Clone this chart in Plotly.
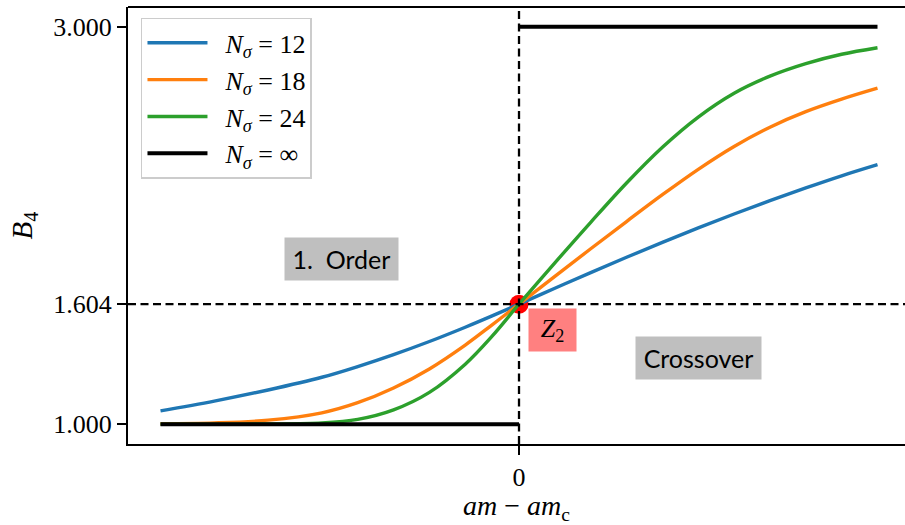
import plotly.graph_objects as go

# ---- data ----
x_grid = [-1.0, -0.85, -0.7, -0.55, -0.45, -0.35, -0.25, -0.15, -0.075, 0.0,
          0.1, 0.2, 0.3, 0.4, 0.5, 0.6, 0.7, 0.8, 0.9, 1.0]
b4_n12 = [1.067, 1.116, 1.172, 1.236, 1.290, 1.350, 1.416, 1.488, 1.545, 1.604,
          1.684, 1.763, 1.840, 1.915, 1.988, 2.058, 2.125, 2.189, 2.250, 2.306]
b4_n18 = [1.002, 1.006, 1.020, 1.057, 1.108, 1.182, 1.278, 1.398, 1.500, 1.604,
          1.744, 1.883, 2.020, 2.155, 2.283, 2.398, 2.495, 2.573, 2.636, 2.691]
b4_n24 = [1.000, 1.000, 1.001, 1.006, 1.024, 1.072, 1.160, 1.302, 1.443, 1.604,
          1.812, 2.016, 2.214, 2.394, 2.546, 2.666, 2.752, 2.815, 2.862, 2.895]
inf_x = [-1.0, 0.0, None, 0.0, 1.0]
inf_y = [1.0, 1.0, None, 3.0, 3.0]
x_crit = 0.0
b4_crit = 1.604
series_names = ["\u00a0\u00a0<i>N</i><sub><i>σ</i></sub> = 12",
                "\u00a0\u00a0<i>N</i><sub><i>σ</i></sub> = 18",
                "\u00a0\u00a0<i>N</i><sub><i>σ</i></sub> = 24",
                "\u00a0\u00a0<i>N</i><sub><i>σ</i></sub> = ∞"]
y_ticks = [1.0, 1.604, 3.0]
y_tick_text = ["1.000", "1.604", "3.000"]
x_ticks = [0.0]
x_tick_text = ["0"]

colors = ["#1f77b4", "#ff7f0e", "#2ca02c", "black"]
SERIF = "Liberation Serif, DejaVu Serif, serif"
SANS = "Lato, DejaVu Sans, sans-serif"

fig = go.Figure()

# critical point marker (drawn below the curves)
fig.add_trace(go.Scatter(x=[x_crit], y=[b4_crit], mode="markers",
                         marker=dict(color="red", size=19), showlegend=False,
                         hoverinfo="skip"))

for ys, name, c in zip([b4_n12, b4_n18, b4_n24], series_names[:3], colors[:3]):
    fig.add_trace(go.Scatter(x=x_grid, y=ys, mode="lines", name=name,
                             line=dict(color=c, width=3.4, shape="spline", smoothing=1.0)))
fig.add_trace(go.Scatter(x=inf_x, y=inf_y, mode="lines", name=series_names[3],
                         line=dict(color=colors[3], width=4)))

# dashed guide lines and top spine
fig.add_shape(type="line", xref="x", yref="paper", x0=x_crit, x1=x_crit, y0=0, y1=1,
              line=dict(color="black", width=2.3, dash="8px,4.5px"), layer="above")
fig.add_shape(type="line", xref="paper", yref="y", x0=0, x1=1, y0=b4_crit, y1=b4_crit,
              line=dict(color="black", width=2.3, dash="8px,4.5px"), layer="above")
fig.add_shape(type="line", xref="paper", yref="paper", x0=0, x1=1, y0=1, y1=1,
              line=dict(color="black", width=2), layer="above")

# region labels
fig.add_annotation(x=-0.4946, y=1.831, text="1.  Order", showarrow=False,
                   font=dict(family=SANS, size=25, color="black"),
                   bgcolor="#bfbfbf", width=113, height=42, borderpad=0)
fig.add_annotation(x=0.50, y=1.331, text="Crossover", showarrow=False,
                   font=dict(family=SANS, size=25, color="black"),
                   bgcolor="#bfbfbf", width=125, height=42, borderpad=0)
fig.add_annotation(x=0.0934, y=1.4736, text="<i>Z</i><sub>2</sub>", showarrow=False,
                   font=dict(family=SERIF, size=26, color="black"),
                   bgcolor="#ff8080", width=47, height=42, borderpad=0)

fig.update_layout(
    width=905, height=525,
    margin=dict(l=128, r=0, t=7, b=81),
    plot_bgcolor="white", paper_bgcolor="white",
    font=dict(family=SERIF, size=26, color="black"),
    showlegend=True,
    legend=dict(x=0.0167, y=0.975, xanchor="left", yanchor="top",
                bgcolor="rgba(255,255,255,0.85)", bordercolor="#cccccc", borderwidth=1.5,
                font=dict(family=SERIF, size=26, color="black"),
                itemwidth=60, tracegroupgap=0),
    xaxis=dict(range=[-1.0907, 1.0767], tickvals=x_ticks, ticktext=x_tick_text,
               showgrid=False, zeroline=False, showline=True, linecolor="black",
               linewidth=2, ticks="outside", ticklen=9, tickwidth=2, tickcolor="black",
               tickfont=dict(family=SERIF, size=26),
               title=dict(text="<i>am</i> − <i>am</i><sub>c</sub>",
                          font=dict(family=SERIF, size=28), standoff=14)),
    yaxis=dict(range=[0.9, 3.1], tickvals=y_ticks, ticktext=y_tick_text,
               showgrid=False, zeroline=False, showline=True, linecolor="black",
               linewidth=2, ticks="outside", ticklen=9, tickwidth=2, tickcolor="black",
               tickfont=dict(family=SERIF, size=26),
               title=dict(text="<i>B</i><sub>4</sub>",
                          font=dict(family=SERIF, size=29), standoff=12)),
)

fig.write_html("out.html")
